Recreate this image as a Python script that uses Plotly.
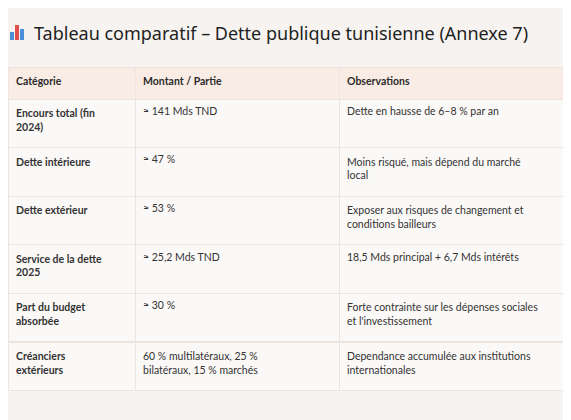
import plotly.graph_objects as go

title = "Tableau comparatif – Dette publique tunisienne (Annexe 7)"
headers = ["Catégorie", "Montant / Partie", "Observations"]
categories = ["Encours total (fin<br>2024)", "Dette intérieure", "Dette extérieur",
              "Service de la dette<br>2025", "Part du budget<br>absorbée", "Créanciers<br>extérieurs"]
montants = ["≈ 141 Mds TND", "≈ 47 %", "≈ 53 %", "≈ 25,2 Mds TND", "≈ 30 %",
            "60 % multilatéraux, 25 %<br>bilatéraux, 15 % marchés"]
observations = ["Dette en hausse de 6–8 % par an",
                "Moins risqué, mais dépend du marché<br>local",
                "Exposer aux risques de changement et<br>conditions bailleurs",
                "18,5 Mds principal + 6,7 Mds intérêts",
                "Forte contrainte sur les dépenses sociales<br>et l'investissement",
                "Dependance accumulée aux institutions<br>internationales"]

W, H = 571, 420
fig = go.Figure(go.Table(
    domain=dict(x=[0, 1], y=[1 - 400 / H, 1 - 59 / H]),
    columnwidth=[127, 204, 240],
    header=dict(values=["<b>%s</b>" % h for h in headers],
                fill_color="#f9ece4", line_color="#ece4dd",
                font=dict(family="Lato, Noto Sans", size=10.5, color="#2b2b2b"),
                align="left", height=32),
    cells=dict(values=[["<b>%s</b>" % c for c in categories], montants, observations],
               fill_color="#fbf9f7", line_color="#ece4dd",
               font=dict(family="Lato, Noto Sans", size=10.5, color="#333333"),
               align="left", height=48.6),
))

# little bar-chart icon next to the title
for x0, y0, col in [(2, 24, "#4a8fd8"), (7, 17, "#e0504a"), (12, 21, "#4a8fd8")]:
    fig.add_shape(type="rect", xref="paper", yref="paper",
                  x0=x0 / W, x1=(x0 + 4) / W, y0=1 - 32 / H, y1=1 - y0 / H,
                  fillcolor=col, line_width=0)

fig.add_annotation(text=title, xref="paper", yref="paper", x=24 / W, y=1 - 25 / H,
                   xanchor="left", yanchor="middle", showarrow=False,
                   font=dict(family="Noto Sans", size=18, color="#1f1f1f"))

fig.update_layout(width=W, height=H, margin=dict(l=0, r=0, t=0, b=0),
                  paper_bgcolor="#f6f3f0", plot_bgcolor="#f6f3f0")
fig.write_html("out.html")
